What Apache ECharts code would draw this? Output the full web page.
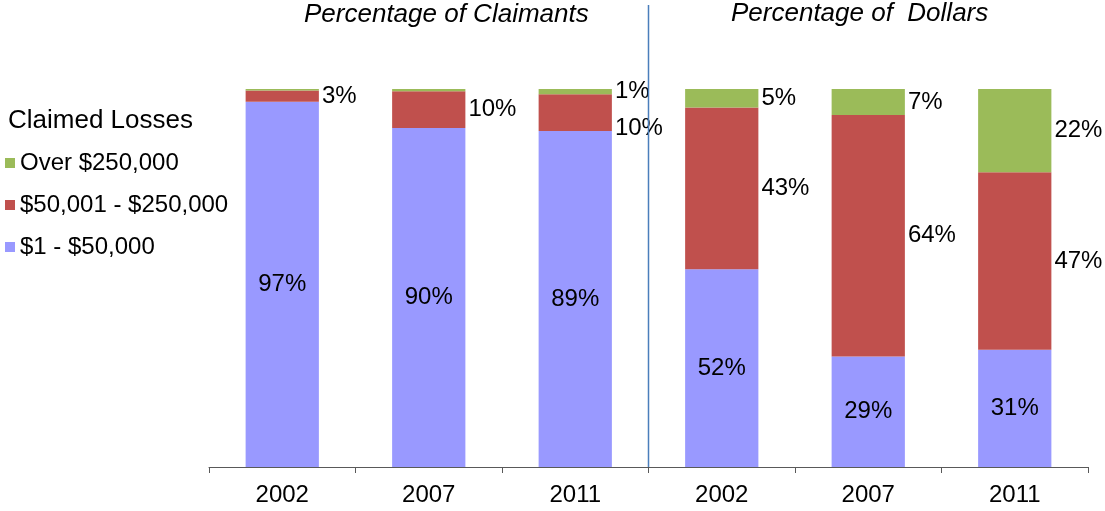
<!DOCTYPE html>
<html>
<head>
<meta charset="utf-8">
<script src="https://cdn.jsdelivr.net/npm/echarts@6/dist/echarts.min.js"></script>
<style>
html,body{margin:0;padding:0;background:#fff;}
#c{width:1105px;height:511px;}
</style>
</head>
<body>
<div id="c"></div>
<script>
// Data
const categories = ['C2002', 'C2007', 'C2011', 'D2002', 'D2007', 'D2011'];
const tickLabels = ['2002', '2007', '2011', '2002', '2007', '2011'];
const seriesNames = ['$1 - $50,000', '$50,001 - $250,000', 'Over $250,000'];
const small = [96.6, 89.7, 88.9, 52.3, 29.2, 31.0];   // $1 - $50,000
const mid   = [3.0, 9.7, 9.7, 42.8, 63.9, 47.0];      // $50,001 - $250,000
const large = [0.4, 0.6, 1.4, 4.9, 6.9, 22.0];        // Over $250,000
const panelTitles = ['Percentage of Claimants', 'Percentage of  Dollars'];
const legendTitle = 'Claimed Losses';

const colors = ['#9999FF', '#C0504D', '#9BBB59'];
const FONT = '"Liberation Sans", Arial, sans-serif';

const G = {left: 209, right: 17, top: 89, bottom: 44};
const W = 1105, H = 511;
const sepX = G.left + (W - G.left - G.right) * 3 / 6;

const fmt = p => Math.round(p.value) + '%';

function sideData(arr, extra) {
  return arr.map((v, i) => {
    const item = {value: v};
    if (v < 1) item.label = {show: false};
    if (extra && extra[i]) item.label = Object.assign({}, item.label || {}, extra[i]);
    return item;
  });
}

const chart = echarts.init(document.getElementById('c'));
chart.setOption({
  animation: false,
  title: [
    {text: panelTitles[0], left: 299, top: -3,
     textStyle: {fontFamily: FONT, fontSize: 26, fontStyle: 'italic', fontWeight: 'normal', color: '#000'}},
    {text: panelTitles[1], left: 726, top: -4,
     textStyle: {fontFamily: FONT, fontSize: 26, fontStyle: 'italic', fontWeight: 'normal', color: '#000'}},
    {text: legendTitle, left: 3, top: 103,
     textStyle: {fontFamily: FONT, fontSize: 26, fontWeight: 'normal', color: '#000'}}
  ],
  legend: {
    orient: 'vertical', left: 0, top: 146,
    itemWidth: 10, itemHeight: 10, itemGap: 18,
    icon: 'rect',
    data: ['Over $250,000', '$50,001 - $250,000', '$1 - $50,000'],
    textStyle: {fontFamily: FONT, fontSize: 24, color: '#000'}
  },
  grid: G,
  xAxis: {
    type: 'category', data: categories,
    axisLine: {lineStyle: {color: '#595959', width: 1}},
    axisTick: {show: true, length: 6, lineStyle: {color: '#595959'}},
    axisLabel: {formatter: (v, i) => tickLabels[i], fontFamily: FONT, fontSize: 24, color: '#000', margin: 16}
  },
  yAxis: {type: 'value', min: 0, max: 100, show: false},
  series: [
    {name: seriesNames[0], type: 'bar', stack: 's', barWidth: '50%', data: small,
     itemStyle: {color: colors[0]},
     label: {show: true, position: 'inside', formatter: fmt, fontFamily: FONT, fontSize: 24, color: '#000'}},
    {name: seriesNames[1], type: 'bar', stack: 's', barWidth: '50%',
     data: sideData(mid, {2: {offset: [0, 16]}}),
     itemStyle: {color: colors[1]},
     label: {show: true, position: 'right', distance: 3, formatter: fmt, fontFamily: FONT, fontSize: 24, color: '#000'}},
    {name: seriesNames[2], type: 'bar', stack: 's', barWidth: '50%', data: sideData(large),
     itemStyle: {color: colors[2]},
     label: {show: true, position: 'right', distance: 3, formatter: fmt, fontFamily: FONT, fontSize: 24, color: '#000'}}
  ],
  graphic: [
    {type: 'line', shape: {x1: sepX, y1: 5, x2: sepX, y2: H - G.bottom}, style: {stroke: '#4A7EBB', lineWidth: 1.5}, z: 10}
  ]
});
</script>
</body>
</html>
